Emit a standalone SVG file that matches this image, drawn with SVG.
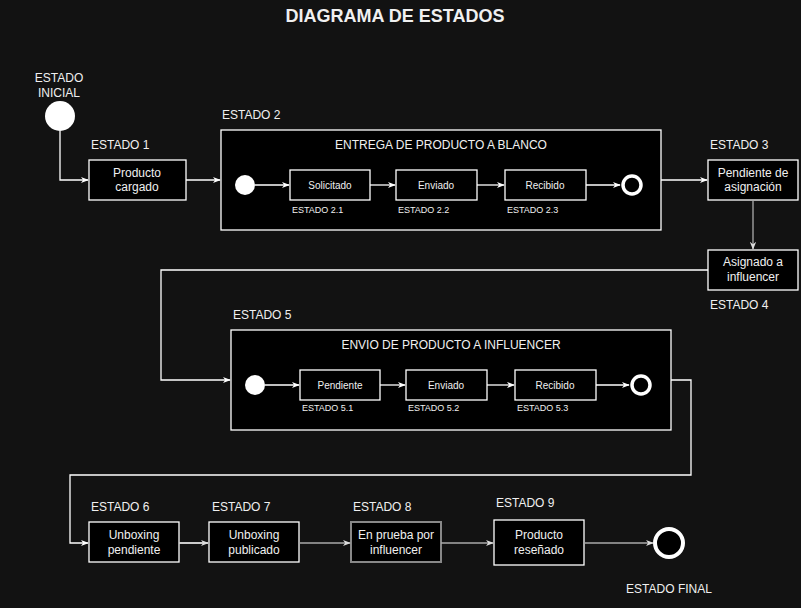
<svg xmlns="http://www.w3.org/2000/svg" width="801" height="608" viewBox="0 0 801 608">
<defs>
<style>
text{font-family:"Liberation Sans",Arial,sans-serif;fill:#f0f0f0;font-size:12px}
.c{text-anchor:middle}
.s{font-size:9px}
.t{font-size:18px;font-weight:bold}
.box{fill:#000;stroke:#fff;stroke-width:1.3}
.e{fill:none;stroke:#fff;stroke-width:1.3}
.g{stroke:#aaa}
</style>
<marker id="a" viewBox="0 0 10 10" refX="9" refY="5" markerWidth="8" markerHeight="8" orient="auto" markerUnits="userSpaceOnUse">
<path d="M0,1 L10,5 L0,9 L3,5 Z" fill="#fff"/>
</marker>
<marker id="ag" viewBox="0 0 10 10" refX="9" refY="5" markerWidth="8" markerHeight="8" orient="auto" markerUnits="userSpaceOnUse">
<path d="M0,1 L10,5 L0,9 L3,5 Z" fill="#ddd"/>
</marker>
</defs>
<rect width="801" height="608" fill="#121212"/>
<text class="c t" x="395" y="22">DIAGRAMA DE ESTADOS</text>

<g id="inicial">
<circle cx="60" cy="116" r="15" fill="#fff"/>
<text class="c" x="59" y="82">ESTADO</text>
<text class="c" x="59" y="97">INICIAL</text>
</g>

<g id="estado1">
<text x="91" y="149">ESTADO 1</text>
<rect class="box" x="89" y="160" width="97" height="40"/>
<text class="c" x="137" y="177">Producto</text>
<text class="c" x="137" y="191">cargado</text>
</g>

<g id="estado2">
<text x="222" y="119">ESTADO 2</text>
<rect class="box" x="221" y="130" width="440" height="100"/>
<text class="c" x="441" y="149">ENTREGA DE PRODUCTO A BLANCO</text>
<circle cx="245" cy="185" r="10" fill="#fff"/>
<g id="estado2_1">
<rect class="box" x="290" y="170" width="80" height="30"/>
<text class="c" x="330" y="189" style="font-size:10px">Solicitado</text>
<text class="s" x="292" y="213">ESTADO 2.1</text>
</g>
<g id="estado2_2">
<rect class="box" x="396" y="170" width="81" height="30"/>
<text class="c" x="436" y="189" style="font-size:10px">Enviado</text>
<text class="s" x="398" y="213">ESTADO 2.2</text>
</g>
<g id="estado2_3">
<rect class="box" x="505" y="170" width="81" height="30"/>
<text class="c" x="545" y="189" style="font-size:10px">Recibido</text>
<text class="s" x="507" y="213">ESTADO 2.3</text>
</g>
<circle cx="632" cy="185" r="9" fill="#000" stroke="#fff" stroke-width="3.5"/>
</g>

<g id="estado3">
<text x="710" y="149">ESTADO 3</text>
<rect class="box" x="708" y="160" width="90" height="40"/>
<text class="c" x="753" y="177">Pendiente de</text>
<text class="c" x="753" y="191">asignación</text>
</g>

<g id="estado4">
<rect class="box" x="708" y="250" width="90" height="40"/>
<text class="c" x="753" y="266">Asignado a</text>
<text class="c" x="753" y="281">influencer</text>
<text x="710" y="309">ESTADO 4</text>
</g>

<g id="estado5">
<text x="233" y="319">ESTADO 5</text>
<rect class="box" x="231" y="330" width="440" height="100"/>
<text class="c" x="451" y="349">ENVIO DE PRODUCTO A INFLUENCER</text>
<circle cx="255" cy="385" r="10" fill="#fff"/>
<g id="estado5_1">
<rect class="box" x="300" y="370" width="80" height="30"/>
<text class="c" x="340" y="389" style="font-size:10px">Pendiente</text>
<text class="s" x="302" y="411">ESTADO 5.1</text>
</g>
<g id="estado5_2">
<rect class="box" x="406" y="370" width="81" height="30"/>
<text class="c" x="446" y="389" style="font-size:10px">Enviado</text>
<text class="s" x="408" y="411">ESTADO 5.2</text>
</g>
<g id="estado5_3">
<rect class="box" x="515" y="370" width="81" height="30"/>
<text class="c" x="555" y="389" style="font-size:10px">Recibido</text>
<text class="s" x="517" y="411">ESTADO 5.3</text>
</g>
<circle cx="641" cy="385" r="9" fill="#000" stroke="#fff" stroke-width="3.5"/>
</g>

<g id="estado6">
<text x="91" y="511">ESTADO 6</text>
<rect class="box" x="89" y="522" width="90" height="40" stroke="#ddd"/>
<text class="c" x="134" y="539">Unboxing</text>
<text class="c" x="134" y="554">pendiente</text>
</g>

<g id="estado7">
<text x="212" y="511">ESTADO 7</text>
<rect class="box" x="209" y="522" width="90" height="40"/>
<text class="c" x="254" y="539">Unboxing</text>
<text class="c" x="254" y="554">publicado</text>
</g>

<g id="estado8">
<text x="353" y="511">ESTADO 8</text>
<rect class="box" x="351" y="522" width="90" height="40" style="stroke:#888;stroke-width:2"/>
<text class="c" x="396" y="539">En prueba por</text>
<text class="c" x="396" y="554">influencer</text>
</g>

<g id="estado9">
<text x="496" y="507">ESTADO 9</text>
<rect class="box" x="494" y="520" width="90" height="45"/>
<text class="c" x="539" y="539">Producto</text>
<text class="c" x="539" y="554">reseñado</text>
</g>

<g id="final">
<circle cx="669" cy="543" r="14" fill="#000" stroke="#fff" stroke-width="4"/>
<text class="c" x="669" y="593">ESTADO FINAL</text>
</g>

<g id="connectors">
<path class="e" d="M60,131 V180 H88" marker-end="url(#a)"/>
<path class="e" d="M186,180 H220" marker-end="url(#a)"/>
<path class="e" d="M255,185 H289" marker-end="url(#a)"/>
<path class="e" d="M370,185 H395" marker-end="url(#a)"/>
<path class="e" d="M477,185 H504" marker-end="url(#a)"/>
<path class="e" d="M586,185 H620" marker-end="url(#a)"/>
<path class="e" d="M661,180 H707" marker-end="url(#a)"/>
<path class="e g" d="M753,200 V249" marker-end="url(#ag)"/>
<path class="e" d="M708,270 H161 V380 H230" marker-end="url(#a)"/>
<path class="e" d="M265,385 H299" marker-end="url(#a)"/>
<path class="e" d="M380,385 H405" marker-end="url(#a)"/>
<path class="e" d="M487,385 H514" marker-end="url(#a)"/>
<path class="e" d="M596,385 H629" marker-end="url(#a)"/>
<path class="e" d="M671,380 H691 V475 H70 V543 H88" marker-end="url(#a)"/>
<path class="e" d="M179,543 H208" style="stroke:#ccc;stroke-width:2" marker-end="url(#ag)"/>
<path class="e g" d="M299,543 H350" marker-end="url(#ag)"/>
<path class="e g" d="M441,543 H493" marker-end="url(#ag)"/>
<path class="e g" d="M584,543 H653" marker-end="url(#ag)"/>
</g>
</svg>
